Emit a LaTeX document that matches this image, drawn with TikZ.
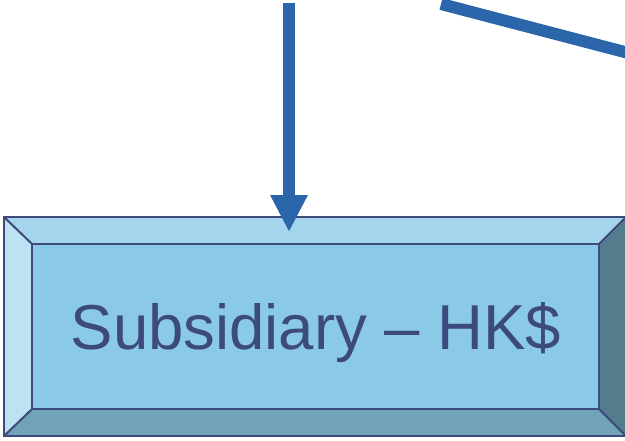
\documentclass[tikz,border=0pt]{standalone}
\usepackage{fontspec}
\setmainfont{Liberation Sans}
\usetikzlibrary{arrows.meta}
\definecolor{topface}{HTML}{A5D5EC}
\definecolor{midface}{HTML}{8BCAE6}
\definecolor{leftface}{HTML}{BCE2F3}
\definecolor{rightface}{HTML}{537C8C}
\definecolor{botface}{HTML}{70A3B8}
\definecolor{edgecol}{HTML}{3E4A7C}
\definecolor{txtcol}{HTML}{3D4A7E}
\definecolor{linkcol}{HTML}{2A66A9}
\tikzset{
  face/.style={draw=edgecol,line width=2pt,line join=miter},
  link/.style={draw=linkcol,line width=12pt},
}
\begin{document}
\begin{tikzpicture}[x=1pt,y=-1pt]
\useasboundingbox (0,0) rectangle (625,440);
% outer corners
\coordinate (o1) at (4,217);
\coordinate (o2) at (626,217);
\coordinate (o3) at (626,436);
\coordinate (o4) at (4,436);
% inner corners
\coordinate (i1) at (32,244);
\coordinate (i2) at (599,244);
\coordinate (i3) at (599,409);
\coordinate (i4) at (32,409);
\fill[topface] (o1) -- (o2) -- (i2) -- (i1) -- cycle;
\fill[rightface] (o2) -- (o3) -- (i3) -- (i2) -- cycle;
\fill[botface] (o3) -- (o4) -- (i4) -- (i3) -- cycle;
\fill[leftface] (o4) -- (o1) -- (i1) -- (i4) -- cycle;
\fill[midface] (i1) rectangle (i3);
\draw[face] (o1) -- (o2) -- (o3) -- (o4) -- cycle;
\draw[face] (i1) rectangle (i3);
\draw[face] (o1) -- (i1) (o2) -- (i2) (o3) -- (i3) (o4) -- (i4);
\node[text=txtcol,font=\fontsize{63.5}{70}\selectfont,inner sep=0pt] (sub) at (316,333) {Subsidiary -- HK\$};
% connectors
\coordinate (src) at (289,3);
\coordinate (tip) at (289,232);
\draw[link,-{Triangle[width=35pt,length=37pt]}] (src) -- (tip);
\coordinate (d1) at (441,4);
\coordinate (d2) at (640,56);
\draw[link] (d1) -- (d2);
\end{tikzpicture}
\end{document}
